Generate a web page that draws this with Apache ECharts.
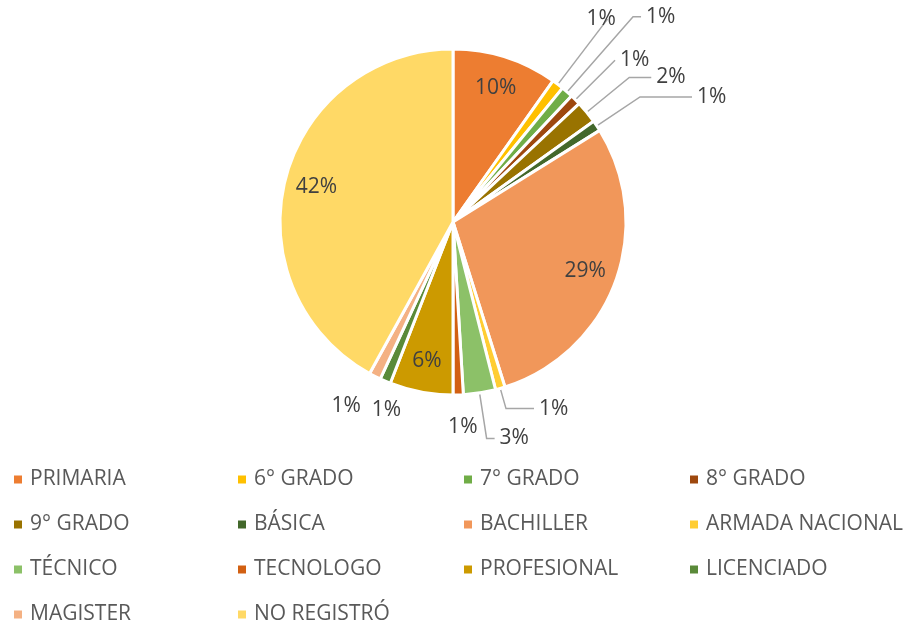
<!DOCTYPE html>
<html>
<head>
<meta charset="utf-8">
<script src="https://cdn.jsdelivr.net/npm/echarts@6/dist/echarts.min.js"></script>
<style>
  html, body { margin: 0; padding: 0; background: #fff; }
  #chart { width: 909px; height: 625px; }
</style>
</head>
<body>
<div id="chart"></div>
<script>
// categorias y porcentajes
var categorias = ['PRIMARIA', '6° GRADO', '7° GRADO', '8° GRADO', '9° GRADO', 'BÁSICA', 'BACHILLER',
  'ARMADA NACIONAL', 'TÉCNICO', 'TECNOLOGO', 'PROFESIONAL', 'LICENCIADO', 'MAGISTER', 'NO REGISTRÓ']
var valores = [9.8, 1.1, 1.1, 1.0, 2.1, 1.0, 29.0, 0.9, 3.0, 0.95, 5.9, 1.0, 1.1, 41.95]
var colores = ['#ED7D31', '#FFC000', '#70AD47', '#9E480E', '#997300', '#43682B', '#F1975A',
  '#FFCD33', '#8CC168', '#D26012', '#CC9A00', '#5A8A39', '#F4B183', '#FFD966']
// rebanadas con etiqueta adentro
var adentro = ['PRIMARIA', 'BACHILLER', 'PROFESIONAL', 'NO REGISTRÓ']
// guias de las etiquetas de afuera: [length, length2, se ve la linea, corrimiento x]
var guias = {
  '6° GRADO': [82, 0, true, -26],
  '7° GRADO': [100, 8, true, 0],
  '8° GRADO': [56, 0, true, 0],
  '9° GRADO': [55, 22, true, 0],
  'BÁSICA': [52, 52, true, 0],
  'ARMADA NACIONAL': [21, 28, true, 0],
  'TÉCNICO': [46, 8, true, 0],
  'TECNOLOGO': [32, -16, false, 0],
  'LICENCIADO': [31, -33, false, 0],
  'MAGISTER': [33, -6, false, 0]
}

var fuente = '"Open Sans", sans-serif'
var pct = function (p) { return Math.round(p.percent) + '%' }

var datos = categorias.map(function (c, i) {
  var item = { name: c, value: valores[i], itemStyle: { color: colores[i] } }
  if (adentro.indexOf(c) >= 0) {
    item.label = { show: false }
    item.labelLine = { show: false }
  } else {
    var g = guias[c]
    item.labelLine = { show: g[2], length: g[0], length2: g[1] }
  }
  return item
})

var datosEtiq = categorias.map(function (c, i) {
  return {
    name: c,
    value: valores[i],
    label: { show: adentro.indexOf(c) >= 0 }
  }
})

// leyenda en 4 columnas
var colX = [12, 236, 462, 688]
var leyendas = colX.map(function (x, k) {
  return {
    orient: 'vertical',
    left: x,
    top: 469,
    padding: 0,
    itemWidth: 10,
    itemHeight: 10,
    itemGap: 24,
    icon: 'rect',
    selectedMode: false,
    data: categorias.filter(function (c, i) { return i % 4 === k }),
    textStyle: { fontFamily: fuente, fontSize: 21, color: '#595959', lineHeight: 21, padding: [0, 0, 0, 2] }
  }
})

var chart = echarts.init(document.getElementById('chart'))
chart.setOption({
  animation: false,
  legend: leyendas,
  series: [
    {
      name: 'principal',
      type: 'pie',
      center: [453, 222],
      radius: [0, 173],
      startAngle: 90,
      clockwise: true,
      avoidLabelOverlap: false,
      itemStyle: { borderColor: '#fff', borderWidth: 3 },
      label: {
        show: true,
        position: 'outside',
        formatter: pct,
        fontFamily: fuente,
        fontSize: 21,
        color: '#404040'
      },
      labelLine: {
        show: true,
        smooth: false,
        lineStyle: { color: '#A6A6A6', width: 1.5 }
      },
      labelLayout: function (p) {
        var g = guias[categorias[p.dataIndex]]
        if (g && g[3]) return { dx: g[3] }
      },
      emphasis: { disabled: true },
      data: datos
    },
    {
      // solo para ubicar las etiquetas internas a ~0.8 del radio
      name: 'etiquetas',
      type: 'pie',
      silent: true,
      center: [453, 222],
      radius: [103, 173],
      startAngle: 90,
      itemStyle: { color: 'rgba(0,0,0,0)' },
      label: {
        position: 'inside',
        formatter: pct,
        fontFamily: fuente,
        fontSize: 21,
        color: '#404040'
      },
      labelLine: { show: false },
      emphasis: { disabled: true },
      tooltip: { show: false },
      data: datosEtiq
    }
  ]
})
</script>
</body>
</html>
